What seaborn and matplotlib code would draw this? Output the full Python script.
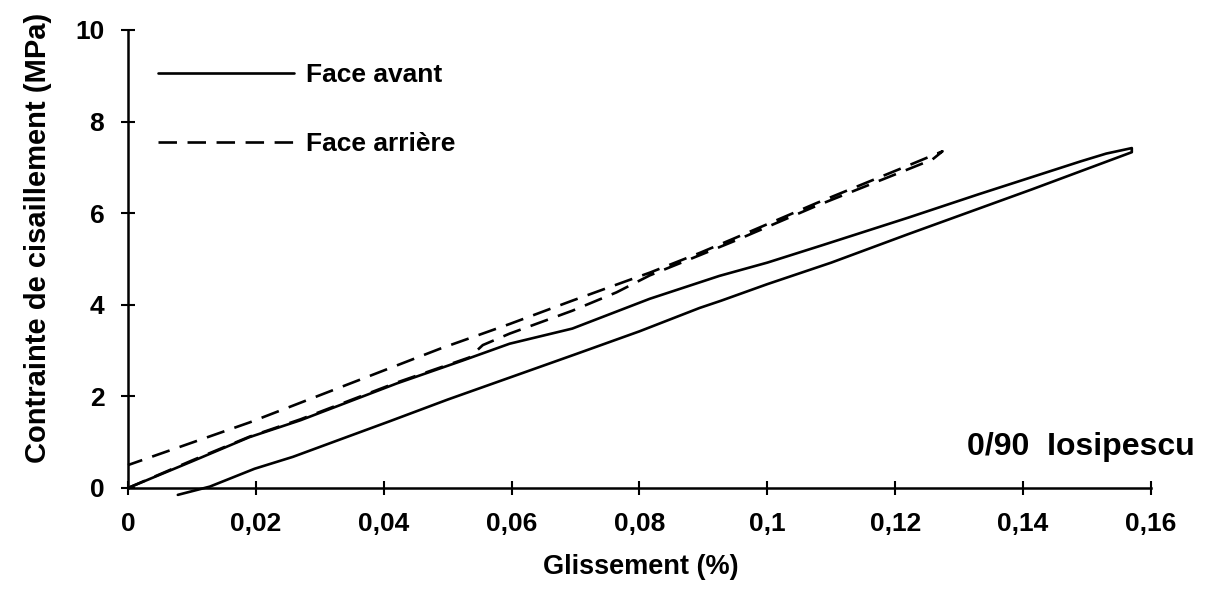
import numpy as np
import pandas as pd
import matplotlib
matplotlib.use("Agg")
import matplotlib.pyplot as plt
import seaborn as sns

# ---------------- data ----------------
# Face avant : loading branch (upper) then unloading branch (lower)
avant_up_x = [0.0, 0.010, 0.019, 0.027, 0.042, 0.0523, 0.0597, 0.0695, 0.0816, 0.0925, 0.1000, 0.1086, 0.122, 0.133, 0.149, 0.153, 0.157]
avant_up_y = [0.0, 0.58, 1.11, 1.48, 2.28, 2.78, 3.15, 3.48, 4.13, 4.63, 4.92, 5.30, 5.90, 6.41, 7.13, 7.30, 7.42]
avant_down_x = [0.157, 0.1414, 0.122, 0.110, 0.100, 0.0928, 0.0894, 0.080, 0.070, 0.0597, 0.050, 0.041, 0.033, 0.0258, 0.0198, 0.0128, 0.0078]
avant_down_y = [7.33, 6.52, 5.54, 4.92, 4.45, 4.09, 3.93, 3.42, 2.92, 2.41, 1.93, 1.46, 1.05, 0.68, 0.42, 0.03, -0.15]

# Face arrière : lower branch (from origin) then upper branch (back to 0.5)
arriere_low_x = [0.0, 0.010, 0.019, 0.027, 0.042, 0.0534, 0.0555, 0.0597, 0.0695, 0.0764, 0.0816, 0.0894, 0.095, 0.1077, 0.1217, 0.1258, 0.1274]
arriere_low_y = [0.0, 0.60, 1.12, 1.50, 2.30, 2.85, 3.12, 3.37, 3.87, 4.27, 4.64, 5.08, 5.40, 6.16, 6.94, 7.17, 7.35]
arriere_up_x = [0.1274, 0.1217, 0.1077, 0.095, 0.0894, 0.0816, 0.078, 0.0695, 0.0597, 0.0488, 0.019, 0.0]
arriere_up_y = [7.35, 7.02, 6.22, 5.46, 5.13, 4.70, 4.52, 4.09, 3.58, 3.04, 1.43, 0.50]

series = ["Face avant", "Face arrière"]
x_ticks = [0, 0.02, 0.04, 0.06, 0.08, 0.1, 0.12, 0.14, 0.16]
x_tick_labels = ["0", "0,02", "0,04", "0,06", "0,08", "0,1", "0,12", "0,14", "0,16"]
y_ticks = [0, 2, 4, 6, 8, 10]
y_tick_labels = ["0", "2", "4", "6", "8", "10"]

# ---------------- build table ----------------
df = pd.concat([
    pd.DataFrame({"x": avant_up_x + avant_down_x, "y": avant_up_y + avant_down_y, "serie": series[0]}),
    pd.DataFrame({"x": arriere_low_x + arriere_up_x, "y": arriere_low_y + arriere_up_y, "serie": series[1]}),
], ignore_index=True)

sns.set_theme(style="white")
plt.rcParams["font.family"] = ["Liberation Sans", "DejaVu Sans"]
plt.rcParams["font.weight"] = "bold"
plt.rcParams["text.color"] = "black"
plt.rcParams["axes.labelcolor"] = "black"

fig, ax = plt.subplots(figsize=(12.07, 6.10), dpi=100)
fig.subplots_adjust(left=0.106, right=0.9536, top=0.951, bottom=0.2)

sns.lineplot(data=df, x="x", y="y", style="serie", style_order=series,
             dashes={series[0]: "", series[1]: (7, 4)},
             sort=False, estimator=None, color="black", linewidth=1.9, ax=ax)
for ln in ax.lines:
    ln.set_clip_on(False)
    ln.set_solid_joinstyle("round")

ax.set_xlim(0, 0.16)
ax.set_ylim(0, 10)
ax.set_xticks(x_ticks)
ax.set_xticklabels(x_tick_labels)
ax.set_yticks(y_ticks)
ax.set_yticklabels(y_tick_labels)

for s in ["top", "right"]:
    ax.spines[s].set_visible(False)
for s in ["left", "bottom"]:
    ax.spines[s].set_color("black")
    ax.spines[s].set_linewidth(1.8)

ax.tick_params(axis="both", direction="inout", length=10, width=1.5, colors="black",
               labelsize=19, left=True, bottom=True)
ax.tick_params(axis="x", pad=12)
ax.tick_params(axis="y", pad=12)
for lab in ax.get_xticklabels() + ax.get_yticklabels():
    lab.set_fontweight("bold")

ax.set_xlabel("Glissement (%)", fontsize=19.5, fontweight="bold", color="black")
ax.set_ylabel("Contrainte de cisaillement (MPa)", fontsize=21, fontweight="bold", color="black")
ax.xaxis.set_label_coords(0.5015, -0.145)
ax.yaxis.set_label_coords(-0.074, 0.546)

ax.text(1.043, 0.072, "0/90  Iosipescu", transform=ax.transAxes, ha="right", va="baseline",
        fontsize=23, fontweight="bold", color="black")

handles, labels = ax.get_legend_handles_labels()
leg = ax.legend(handles, labels, loc="upper left", bbox_to_anchor=(0.0293, 0.927),
                frameon=False, fontsize=19, handlelength=5.15, handletextpad=0.45,
                labelspacing=1.69, borderaxespad=0, borderpad=0)
for t in leg.get_texts():
    t.set_fontweight("bold")
    t.set_color("black")

fig.savefig("out.png", dpi=100, facecolor="white")
